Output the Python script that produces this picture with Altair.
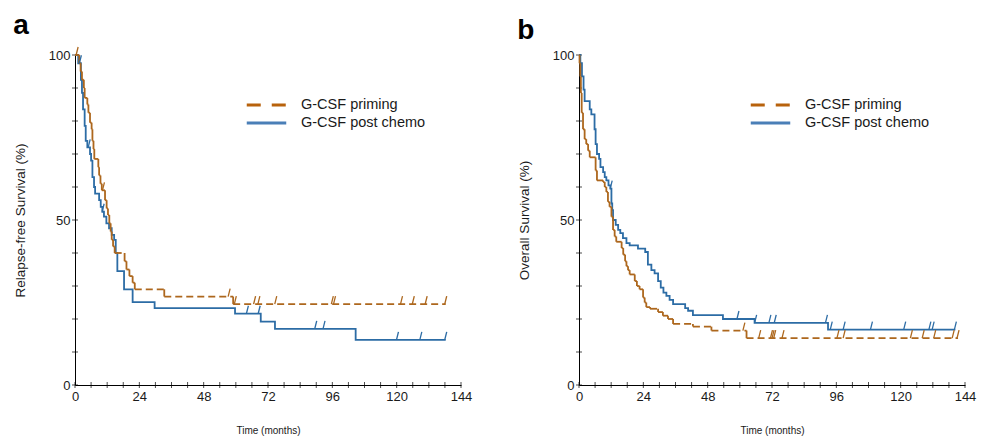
import altair as alt
import pandas as pd

PRIMING = "G-CSF priming"
POST = "G-CSF post chemo"
SERIES = [PRIMING, POST]

ORANGE = "#AD671D"
BLUE = "#2C6CA5"
ORANGE_LEGEND = "#B8620C"
BLUE_LEGEND = "#4A7FB7"
FONT = "Liberation Sans"

X_LABELS = [0, 24, 48, 72, 96, 120, 144]
X_TICKS = [0, 6, 12, 18, 24, 30, 36, 42, 48, 54, 60, 66, 72, 78, 84, 90, 96,
           102, 108, 114, 120, 126, 132, 138, 144]
Y_LABELS = [0, 50, 100]
Y_TICKS = [0, 10, 20, 30, 40, 50, 60, 70, 80, 90, 100]

# ---- Panel a: relapse-free survival ----
RFS_PRIMING_T = [0, 1.6, 2.1, 2.6, 3.3, 3.6, 4.6, 5.0, 5.6, 6.2, 6.5, 6.9, 7.2, 8.7,
                 9.0, 9.5, 10.0, 11.2, 11.8, 12.3, 12.8, 13.3, 13.7, 14.2, 14.8,
                 18.5, 19.2, 20.3, 21.5, 22.3, 33.3, 59.0]
RFS_PRIMING_S = [100, 97.5, 95, 92.5, 90, 87, 85, 82.5, 79.5, 77.5, 74, 71.5, 68.5, 66,
                 63.5, 61, 59, 56, 53.5, 51.5, 49, 46.5, 44, 42, 40,
                 37.5, 35, 33, 31, 29, 26.8, 24.5]
RFS_PRIMING_END = 138.3
RFS_PRIMING_CENS_T = [0.8, 10.6, 57.5, 59.8, 67.0, 68.6, 74.9, 96.0, 96.8, 121.8,
                      126.2, 131.0, 138.3]
RFS_PRIMING_CENS_S = [100, 59, 26.8, 24.5, 24.5, 24.5, 24.5, 24.5, 24.5, 24.5,
                      24.5, 24.5, 24.5]

RFS_POST_T = [0, 1.2, 2.2, 2.6, 3.0, 3.6, 4.0, 4.6, 5.6, 6.0, 6.5, 7.1, 7.5, 9.0,
              9.6, 10.2, 10.8, 11.7, 12.7, 13.7, 14.6, 15.2, 15.8, 18.3, 21.5,
              29.7, 59.7, 69.3, 74.6, 104.7]
RFS_POST_S = [100, 97.5, 92.5, 88.5, 83.5, 78.5, 74, 72, 70, 68, 63, 60, 58, 56,
              54, 52.5, 51, 49, 47.5, 45.5, 44, 40, 34.5, 29, 25.1,
              23.3, 21.6, 19.2, 17.0, 13.7]
RFS_POST_END = 138.3
RFS_POST_CENS_T = [2.0, 5.3, 10.5, 64.3, 68.7, 89.8, 92.9, 120.3, 129.0, 138.3]
RFS_POST_CENS_S = [97.5, 72, 52.5, 21.6, 21.6, 17.0, 17.0, 13.7, 13.7, 13.7]

# ---- Panel b: overall survival ----
OS_PRIMING_T = [0, 0.2, 0.5, 0.7, 1.0, 1.5, 2.1, 2.7, 3.4, 4.0, 6.2, 6.7, 9.0, 9.6,
                10.2, 10.8, 11.4, 12.1, 12.7, 13.3, 13.9, 15.9, 16.5, 17.2, 17.7,
                18.3, 18.9, 20.8, 21.6, 22.6, 23.9, 24.5, 25.1, 26.5, 29.5, 31.3,
                33.2, 35.1, 42.5, 49.4, 62.5]
OS_PRIMING_S = [100, 97.5, 93.5, 88.5, 82.5, 77.5, 74.5, 73, 71, 69, 65, 62, 61.5, 60,
                58.5, 55.5, 54, 51, 47, 45, 43.4, 41.5, 39.5, 37.5, 36,
                34.8, 33.5, 31.5, 30, 29, 26.5, 25, 23.6, 23.1, 22.1, 21,
                20, 18.5, 17.7, 16.5, 14.2]
OS_PRIMING_END = 141.4
OS_PRIMING_CENS_T = [61.5, 67.4, 71.8, 72.4, 73.0, 76.1, 96.6, 98.9, 124.0, 128.4,
                     132.7, 139.6, 141.4]
OS_PRIMING_CENS_S = [16.5, 14.2, 14.2, 14.2, 14.2, 14.2, 14.2, 14.2, 14.2, 14.2,
                     14.2, 14.2, 14.2]

OS_POST_T = [0, 0.5, 1.1, 1.7, 2.1, 4.0, 4.6, 5.8, 6.2, 6.7, 7.5, 8.0, 9.0, 9.6,
             10.2, 11.0, 11.7, 12.1, 12.4, 12.7, 13.7, 14.6, 15.4, 16.4, 17.7,
             18.9, 22.0, 24.7, 25.7, 27.0, 28.2, 29.5, 30.5, 31.5, 32.6, 33.8,
             35.1, 39.6, 40.7, 42.5, 53.7, 65.5, 92.9]
OS_POST_S = [100, 97.5, 93.5, 89.5, 86, 83.5, 82, 77.5, 73, 70, 68.5, 66, 64.5, 63,
             62, 60.5, 59.5, 55, 53, 50, 48.5, 47, 46, 44.5, 43,
             42.3, 41.3, 40.3, 36.5, 34.8, 33.8, 31.5, 29.5, 28, 27, 25.8,
             24.5, 23.3, 22.5, 21.2, 20.0, 18.8, 16.8]
OS_POST_END = 140.4
OS_POST_CENS_T = [12.0, 59.3, 65.9, 71.2, 73.2, 92.3, 94.1, 98.9, 109.1, 121.5,
                  130.9, 132.1, 140.4]
OS_POST_CENS_S = [59.5, 20.0, 18.8, 18.8, 18.8, 18.8, 16.8, 16.8, 16.8, 16.8,
                  16.8, 16.8, 16.8]

CENSOR_SHAPE = "M -0.25 1 L 0.25 -1"


def step_points(t, s, end, series):
    rows = [{"t": a, "s": b, "series": series} for a, b in zip(t, s)]
    rows.append({"t": end, "s": s[-1], "series": series})
    return pd.DataFrame(rows)


def step_segments(t, s, end):
    times = list(t) + [end]
    rows = []
    for i, lvl in enumerate(s):
        rows.append({"t": times[i], "t2": times[i + 1], "s": lvl, "s2": lvl, "vertical": 0})
        if i + 1 < len(s):
            rows.append({"t": times[i + 1], "t2": times[i + 1], "s": lvl, "s2": s[i + 1],
                         "vertical": 1})
    return pd.DataFrame(rows)


def censor_frame(pt, ps, bt, bs):
    rows = [{"t": a, "s": b, "series": PRIMING} for a, b in zip(pt, ps)]
    rows += [{"t": a, "s": b, "series": POST} for a, b in zip(bt, bs)]
    return pd.DataFrame(rows)


def panel(letter, ytitle, pr_t, pr_s, pr_end, po_t, po_s, po_end, cens):
    xs = alt.Scale(domain=[0, 144], nice=False, zero=False)
    ys = alt.Scale(domain=[0, 100], nice=False, zero=False)
    xax = alt.Axis(values=X_LABELS, title="Time (months)", ticks=False, tickSize=0,
                   labelPadding=5, labelFontSize=13, labelFont=FONT, labelColor="#1a1a1a",
                   titleFontSize=10, titleFont=FONT, titleFontWeight="normal",
                   titleColor="#1a1a1a", titlePadding=22, grid=False,
                   domainColor="black", domainWidth=1, labelFlush=False, labelOverlap=False)
    yax = alt.Axis(values=Y_LABELS, title=ytitle, ticks=False, tickSize=0,
                   labelPadding=5, labelFontSize=13, labelFont=FONT, labelColor="#1a1a1a",
                   titleFontSize=13.5, titleFont=FONT, titleFontWeight="normal",
                   titleColor="#1a1a1a", titlePadding=21, grid=False,
                   domainColor="black", domainWidth=1, labelFlush=False, labelOverlap=False)

    def X(f):
        return alt.X(f, type="quantitative", scale=xs, axis=xax)

    def Y(f):
        return alt.Y(f, type="quantitative", scale=ys, axis=yax)

    xticks = alt.Chart(pd.DataFrame({"v": X_TICKS, "zero": 0})).mark_tick(
        orient="vertical", size=6, thickness=1, color="black"
    ).encode(x=X("v"), y=Y("zero"))
    yticks = alt.Chart(pd.DataFrame({"v": Y_TICKS, "zero": 0})).mark_tick(
        orient="horizontal", size=6, thickness=1, color="black"
    ).encode(x=X("zero"), y=Y("v"))

    post_line = alt.Chart(step_points(po_t, po_s, po_end, POST)).mark_line(
        interpolate="step-after", strokeWidth=1.8, color=BLUE
    ).encode(x=X("t"), y=Y("s"))

    segs = step_segments(pr_t, pr_s, pr_end)
    prim_h = alt.Chart(segs).transform_filter("datum.vertical == 0").mark_rule(
        strokeWidth=1.8, strokeDash=[7, 4], color=ORANGE
    ).encode(x=X("t"), x2=alt.X2("t2"), y=Y("s"), y2=alt.Y2("s2"))
    prim_v = alt.Chart(segs).transform_filter("datum.vertical == 1").mark_rule(
        strokeWidth=1.8, color=ORANGE
    ).encode(x=X("t"), x2=alt.X2("t2"), y=Y("s"), y2=alt.Y2("s2"))

    cens_layer = alt.Chart(cens).mark_point(
        shape=CENSOR_SHAPE, filled=False, size=64, strokeWidth=1.3, yOffset=-4, opacity=1
    ).encode(
        x=X("t"), y=Y("s"),
        color=alt.condition(alt.datum.series == PRIMING, alt.value(ORANGE), alt.value(BLUE)),
    )

    leg = alt.Legend(title=None, orient="none", legendX=170, legendY=43,
                     labelFontSize=14.5, labelFont=FONT, labelColor="#1a1a1a",
                     symbolType="stroke", symbolStrokeWidth=3, symbolSize=1560,
                     labelOffset=13, rowPadding=3, clipHeight=14)
    legend_layer = alt.Chart(step_points(pr_t, pr_s, pr_end, PRIMING)).transform_filter(
        "false"
    ).mark_line().encode(
        x=X("t"), y=Y("s"),
        color=alt.Color("series:N", scale=alt.Scale(domain=SERIES, range=[ORANGE_LEGEND, BLUE_LEGEND]), legend=leg),
        strokeDash=alt.StrokeDash("series:N", scale=alt.Scale(domain=SERIES, range=[[14, 11], [1, 0]]), legend=leg),
    )

    return alt.layer(xticks, yticks, post_line, prim_h, prim_v, cens_layer, legend_layer).properties(
        width=386, height=330,
        title=alt.TitleParams(letter, anchor="start", frame="bounds", fontSize=28,
                              fontWeight="bold", font=FONT, color="black", offset=4),
    )


panel_a = panel("a", "Relapse-free Survival (%)",
                RFS_PRIMING_T, RFS_PRIMING_S, RFS_PRIMING_END,
                RFS_POST_T, RFS_POST_S, RFS_POST_END,
                censor_frame(RFS_PRIMING_CENS_T, RFS_PRIMING_CENS_S, RFS_POST_CENS_T, RFS_POST_CENS_S))
panel_b = panel("b", "Overall Survival (%)",
                OS_PRIMING_T, OS_PRIMING_S, OS_PRIMING_END,
                OS_POST_T, OS_POST_S, OS_POST_END,
                censor_frame(OS_PRIMING_CENS_T, OS_PRIMING_CENS_S, OS_POST_CENS_T, OS_POST_CENS_S))

chart = alt.hconcat(panel_a, panel_b, spacing=45).resolve_scale(
    color="independent", strokeDash="independent"
).resolve_legend(color="independent", strokeDash="independent").properties(
    padding={"left": 5, "top": 4, "right": 2, "bottom": 2}
).configure(font=FONT).configure_view(stroke=None)

chart.save("out.html", embed_options={"renderer": "svg", "actions": False})
